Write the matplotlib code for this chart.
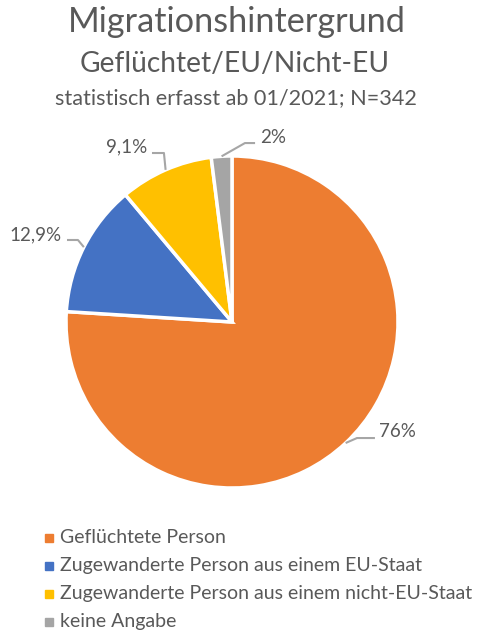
import matplotlib
matplotlib.use("Agg")
import matplotlib.pyplot as plt
from matplotlib.lines import Line2D
import numpy as np

# ---- data ----
categories = ["Geflüchtete Person",
              "Zugewanderte Person aus einem EU-Staat",
              "Zugewanderte Person aus einem nicht-EU-Staat",
              "keine Angabe"]
values = [76, 12.9, 9.1, 2]
value_labels = ["76%", "12,9%", "9,1%", "2%"]
colors = ["#ED7D31", "#4472C4", "#FFC000", "#A5A5A5"]
title_lines = ["Migrationshintergrund", "Geflüchtet/EU/Nicht-EU",
               "statistisch erfasst ab 01/2021; N=342"]

TXT = "#595959"
FONT = "Lato"
W, H = 478, 637
fig = plt.figure(figsize=(W / 100, H / 100), dpi=100)
renderer = fig.canvas.get_renderer()


def fit_text(x_px, y_px, s, target_w, ha="center", va="baseline", **kw):
    t = fig.text(x_px / W, 1 - y_px / H, s, ha=ha, va=va, fontsize=20,
                 family=FONT, color=TXT, **kw)
    w = t.get_window_extent(renderer=renderer).width
    t.set_fontsize(20 * target_w / w)
    return t


# titles
fit_text(236.7, 32, title_lines[0], 340)
fit_text(234.5, 72, title_lines[1], 309)
fit_text(236, 104, title_lines[2], 362)

# pie axes: center (232,322) px, radius 166 px
cx, cy, R = 232, 322, 166
lim = 1.2
ax_w = 2 * lim * R
ax = fig.add_axes([(cx - ax_w / 2) / W, (H - cy - ax_w / 2) / H, ax_w / W, ax_w / H])

wedges, _ = ax.pie(values, colors=colors, startangle=90, counterclock=False,
                   radius=1.0, wedgeprops=dict(edgecolor="white", linewidth=2.5))
ax.set_xlim(-lim, lim)
ax.set_ylim(-lim, lim)
ax.set_aspect("equal")
ax.axis("off")

# label placement (style): text anchor, ha, leader elbow and end points
label_pos = [((0.886, -0.657), "left"), ((-1.024, 0.524), "right"),
             ((-0.512, 1.057), "right"), ((0.169, 1.114), "left")]
leader_pts = [[(0.753, -0.699), (0.861, -0.699)],
              [(-0.928, 0.494), (-0.994, 0.494)],
              [(-0.41, 1.018), (-0.482, 1.018)],
              [(0.078, 1.078), (0.139, 1.078)]]

# fit label font size
probe = ax.text(0, 0, "12,9%", fontsize=20, family=FONT)
pw = probe.get_window_extent(renderer=renderer).width
probe.remove()
lab_fs = 20 * 52 / pw

for w, lab, (pos, ha), pts in zip(wedges, value_labels, label_pos, leader_pts):
    ang = np.deg2rad((w.theta1 + w.theta2) / 2)
    ex, ey = np.cos(ang), np.sin(ang)
    xs = [ex] + [p[0] for p in pts]
    ys = [ey] + [p[1] for p in pts]
    ax.plot(xs, ys, color="#A6A6A6", lw=1.5, solid_capstyle="butt", clip_on=False)
    ax.text(pos[0], pos[1], lab, ha=ha, va="center", fontsize=lab_fs,
            family=FONT, color=TXT)

# legend (manual)
probe = fig.text(0, 0, categories[2], fontsize=20, family=FONT)
pw = probe.get_window_extent(renderer=renderer).width
probe.remove()
leg_fs = 20 * 413 / pw
row_y = [537.5, 565.5, 593.5, 621.5]
for cat, col, y in zip(categories, colors, row_y):
    fig.add_artist(Line2D([48.5 / W], [1 - y / H], marker="s", markersize=5.2,
                          color=col, linestyle="none", transform=fig.transFigure))
    fig.text(60 / W, 1 - y / H, cat, ha="left", va="center", fontsize=leg_fs,
             family=FONT, color=TXT)

fig.savefig("out.png", dpi=100, facecolor="white")
